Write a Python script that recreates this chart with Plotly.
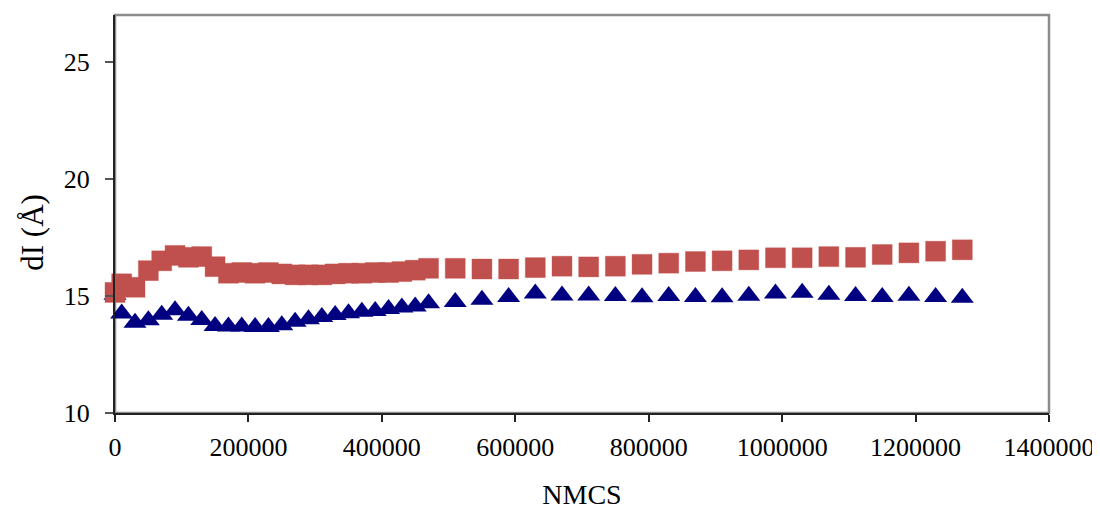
import plotly.graph_objects as go

# ---- data ----
nmcs = [0, 10000, 30000, 50000, 70000, 90000, 110000, 130000, 150000, 170000,
        190000, 210000, 230000, 250000, 270000, 290000, 310000, 330000, 350000,
        370000, 390000, 410000, 430000, 450000, 470000, 510000, 550000, 590000,
        630000, 670000, 710000, 750000, 790000, 830000, 870000, 910000, 950000,
        990000, 1030000, 1070000, 1110000, 1150000, 1190000, 1230000, 1270000]

di_squares = [15.15, 15.52, 15.37, 16.08, 16.50, 16.73, 16.65, 16.68, 16.25, 15.97,
              16.00, 15.97, 16.00, 15.94, 15.90, 15.90, 15.90, 15.94, 15.97,
              15.97, 16.00, 16.00, 16.04, 16.10, 16.18, 16.18, 16.15, 16.15,
              16.21, 16.27, 16.24, 16.27, 16.35, 16.40, 16.47, 16.50, 16.54,
              16.63, 16.63, 16.68, 16.65, 16.77, 16.84, 16.91, 16.97]

di_triangles = [15.05, 14.25, 13.86, 13.96, 14.20, 14.39, 14.15, 13.97, 13.72, 13.69,
                13.69, 13.67, 13.67, 13.75, 13.90, 14.00, 14.10, 14.19, 14.26,
                14.33, 14.36, 14.44, 14.51, 14.55, 14.69, 14.74, 14.84, 14.96,
                15.10, 15.02, 15.02, 15.00, 14.94, 15.00, 14.96, 14.94, 15.01,
                15.10, 15.14, 15.05, 15.00, 14.96, 15.01, 14.96, 14.92]

x_ticks = [0, 200000, 400000, 600000, 800000, 1000000, 1200000, 1400000]
y_ticks = [10, 15, 20, 25]
x_title = "NMCS"
y_title = "dI (Å)"

FONT = "Liberation Serif, Times New Roman, serif"

fig = go.Figure()
fig.add_trace(go.Scatter(
    x=nmcs, y=di_triangles, mode="markers", name="triangles",
    marker=dict(symbol="triangle-up", size=20, color="#000080",
                line=dict(width=0)),
    cliponaxis=False, showlegend=False))
fig.add_trace(go.Scatter(
    x=nmcs, y=di_squares, mode="markers", name="squares",
    marker=dict(symbol="square", size=20, color="#C0504D",
                line=dict(width=0.6, color="rgba(192,80,77,0.6)")),
    cliponaxis=False, showlegend=False))

# gray plot-area border (top and right)
fig.add_shape(type="rect", xref="paper", yref="paper", x0=0, x1=1, y0=0, y1=1,
              line=dict(color="#8c8c8c", width=2.5), layer="below")

# the page body has an 8px margin, so the figure is sized to fit the window
fig.update_layout(
    width=1092, height=502,
    margin=dict(l=107, r=51, t=7, b=97, autoexpand=False),
    paper_bgcolor="white", plot_bgcolor="white",
    font=dict(family=FONT, size=26, color="black"),
    showlegend=False,
    annotations=[dict(text=y_title, xref="paper", yref="paper",
                      x=-0.088, y=0.455, xanchor="center", yanchor="middle",
                      textangle=-90, showarrow=False,
                      font=dict(family=FONT, size=31, color="black"))],
)
fig.update_xaxes(
    range=[0, 1400000], tickvals=x_ticks, tickformat="d",
    showgrid=False, zeroline=False, automargin=False,
    showline=True, linecolor="#222222", linewidth=2,
    ticks="outside", ticklen=7, tickcolor="#222222", tickwidth=1.5,
    ticklabelstandoff=3,
    tickfont=dict(family=FONT, size=26, color="black"),
    title=dict(text=x_title, standoff=26,
               font=dict(family=FONT, size=28, color="black")),
)
fig.update_yaxes(
    range=[10, 27], tickvals=y_ticks,
    showgrid=False, zeroline=False, automargin=False,
    showline=True, linecolor="#222222", linewidth=2,
    ticks="outside", ticklen=8, tickcolor="#555555", tickwidth=1.5,
    ticklabelstandoff=10,
    tickfont=dict(family=FONT, size=26, color="black"),
)

fig.write_html("out.html")
